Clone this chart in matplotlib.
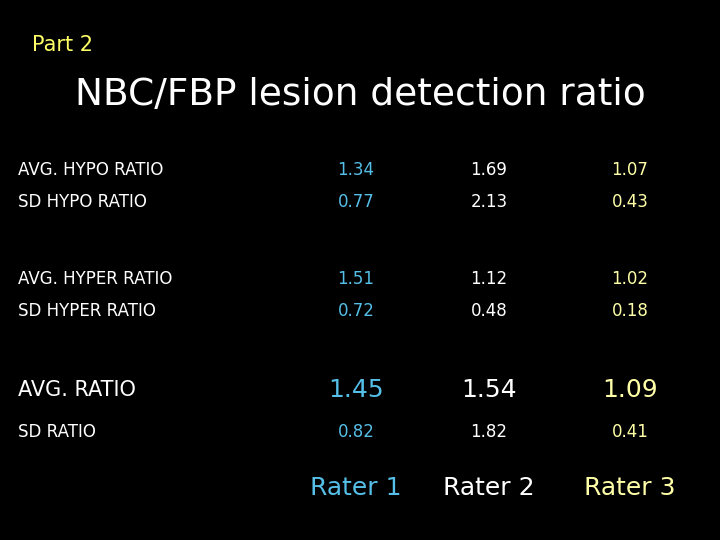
import matplotlib
matplotlib.use("Agg")
import matplotlib.pyplot as plt

row_labels = ["AVG. HYPO RATIO", "SD HYPO RATIO", "AVG. HYPER RATIO", "SD HYPER RATIO", "AVG. RATIO", "SD RATIO"]
raters = ["Rater 1", "Rater 2", "Rater 3"]
rater1 = [1.34, 0.77, 1.51, 0.72, 1.45, 0.82]
rater2 = [1.69, 2.13, 1.12, 0.48, 1.54, 1.82]
rater3 = [1.07, 0.43, 1.02, 0.18, 1.09, 0.41]

row_y = [170, 202, 279, 311, 390, 432]
row_size = [12, 12, 12, 12, 15, 12]
col_x = [356, 489, 630]
col_colors = ["#55bfe8", "#ffffff", "#ffffa8"]

fig = plt.figure(figsize=(7.2, 5.4), dpi=100, facecolor="black")
ax = fig.add_axes([0, 0, 1, 1])
ax.set_facecolor("black")
ax.set_xlim(0, 720)
ax.set_ylim(540, 0)
ax.axis("off")

ax.text(32, 45, "Part 2", color="#ffff66", fontsize=15, va="center", ha="left")
ax.text(360, 95, "NBC/FBP lesion detection ratio", color="white", fontsize=27, va="center", ha="center")

cols = [rater1, rater2, rater3]
for i, lab in enumerate(row_labels):
    ax.text(18, row_y[i], lab, color="white", fontsize=row_size[i], va="center", ha="left")
    for j, vals in enumerate(cols):
        ax.text(col_x[j], row_y[i], f"{vals[i]:.2f}", color=col_colors[j],
                fontsize=row_size[i] + (3 if i == 4 else 0), va="center", ha="center")
for j, r in enumerate(raters):
    ax.text(col_x[j], 488, r, color=col_colors[j], fontsize=18, va="center", ha="center")

fig.savefig("out.png", dpi=100, facecolor="black")
